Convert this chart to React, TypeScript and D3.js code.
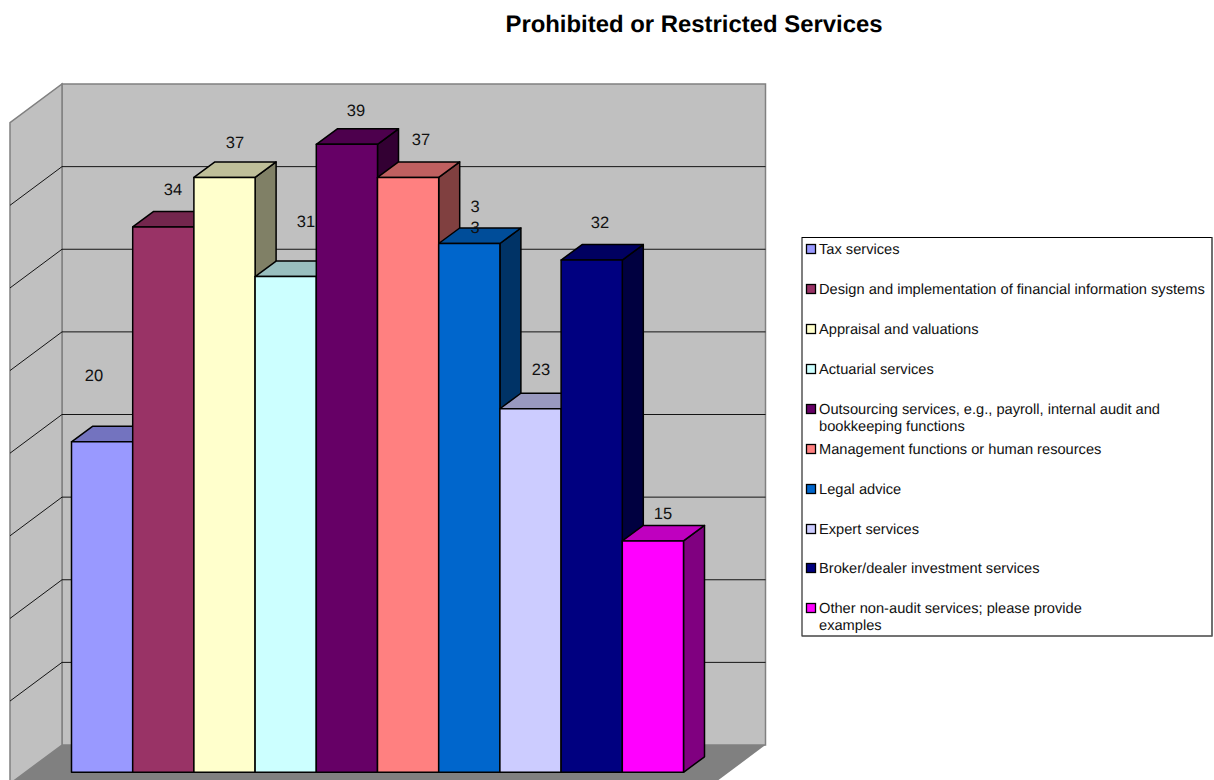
import React from "react";
import * as d3 from "d3";

const chartTitle = "Prohibited or Restricted Services";
const categories = [
  "Tax services",
  "Design and implementation of financial information systems",
  "Appraisal and valuations",
  "Actuarial services",
  "Outsourcing services, e.g., payroll, internal audit and",
  "Management functions or human resources",
  "Legal advice",
  "Expert services",
  "Broker/dealer investment services",
  "Other non-audit services; please provide",
];
const secondLines = ["", "", "", "", "bookkeeping functions", "", "", "", "", "examples"];
// Bar heights (the first bar stands a little higher than its label says).
const barValues = [21, 34, 37, 31, 39, 37, 33, 23, 32, 15];
const dataLabels = ["20", "34", "37", "31", "39", "37", "3\n3", "23", "32", "15"];
const labelX = [94, 173, 235, 306, 356, 421, 475, 541, 600, 663];
const labelY = [381, 195, 148, 227, 116, 145, 212, 375, 228, 519];
const colors = ["#9999ff", "#993366", "#ffffcc", "#ccffff", "#660066", "#ff8080", "#0066cc", "#ccccff", "#000080", "#ff00ff"];
const gridTicks = [5, 10, 15, 20, 25, 30, 35];
const legendBaselines = [254, 294, 334, 374, 414, 454, 494, 534, 573, 613];

const FONT = "'Liberation Sans', Arial, sans-serif";
const depthX = 52;
const depthY = 38.7;
const barDepthX = 21;
const barDepthY = 15.5;

const wallY = d3.scaleLinear().domain([0, 40]).range([745, 84]);
const barY = d3.scaleLinear().domain([1, 41]).range([772.3, 111.3]);
const barX = d3.scaleBand<string>().domain(categories).range([71.5, 683.5]).padding(0);
const wallLeft = 62;
const wallRight = 765.5;
const shade = (c: string, k: number) => {
  const r = d3.rgb(c);
  return d3.rgb(r.r * k, r.g * k, r.b * k).formatHex();
};
const pts = (p: number[][]) => p.map((q) => q.join(",")).join(" ");

export default function App() {
  const w = barX.bandwidth();
  return (
    <svg
      width={1214}
      height={780}
      viewBox="0 0 1214 780"
      style={{ position: "fixed", left: 0, top: 0, display: "block", background: "#fff" }}
      fontFamily={FONT}
      textRendering="geometricPrecision"
    >
      <text x={694} y={32} textAnchor="middle" fontSize={23.9} fontWeight="bold" fill="#000">
        {chartTitle}
      </text>

      {/* walls and floor */}
      <polygon
        points={pts([[wallLeft, wallY(0)], [wallRight, wallY(0)], [wallRight - depthX, wallY(0) + depthY], [wallLeft - depthX, wallY(0) + depthY]])}
        fill="#808080"
      />
      <rect x={wallLeft} y={wallY(40)} width={wallRight - wallLeft} height={wallY(0) - wallY(40)} fill="#c0c0c0" stroke="#808080" strokeWidth={1.5} />
      <polygon
        points={pts([[wallLeft, wallY(40)], [wallLeft, wallY(0)], [wallLeft - depthX, wallY(0) + depthY], [wallLeft - depthX, wallY(40) + depthY]])}
        fill="#c0c0c0"
        stroke="#808080"
        strokeWidth={1.5}
      />
      {gridTicks.map((t) => (
        <path
          key={t}
          d={`M${wallLeft - depthX},${wallY(t) + depthY}L${wallLeft},${wallY(t)}H${wallRight}`}
          fill="none"
          stroke="#000"
          strokeWidth={0.9}
        />
      ))}

      {/* bars */}
      {categories.map((c, i) => {
        const x0 = barX(c) as number;
        const x1 = x0 + w;
        const yT = barY(barValues[i]);
        const yB = barY(1);
        return (
          <g key={c} stroke="#000" strokeWidth={1.5} strokeLinejoin="round">
            <polygon
              points={pts([[x1, yT], [x1 + barDepthX, yT - barDepthY], [x1 + barDepthX, yB - barDepthY], [x1, yB]])}
              fill={shade(colors[i], 0.5)}
            />
            <polygon
              points={pts([[x0, yT], [x0 + barDepthX, yT - barDepthY], [x1 + barDepthX, yT - barDepthY], [x1, yT]])}
              fill={shade(colors[i], 0.75)}
            />
            <rect x={x0} y={yT} width={w} height={yB - yT} fill={colors[i]} />
          </g>
        );
      })}

      {/* data labels */}
      {dataLabels.map((l, i) =>
        l.split("\n").map((part, k) => (
          <text key={`${i}-${k}`} x={labelX[i]} y={labelY[i] + k * 21} textAnchor="middle" fontSize={16.5} fill="#111">
            {part}
          </text>
        ))
      )}

      {/* legend */}
      <rect x={802} y={237.5} width={410} height={398.5} fill="#fff" stroke="#000" strokeWidth={1} />
      <path d="M802,636H1212V237.5" fill="none" stroke="#666" strokeWidth={1.2} />
      {categories.map((c, i) => (
        <g key={c}>
          <rect x={806.5} y={legendBaselines[i] - 9.5} width={9} height={9} fill={colors[i]} stroke="#000" strokeWidth={1.3} />
          <text x={819} y={legendBaselines[i]} fontSize={14.65} fill="#111">
            {c}
          </text>
          {secondLines[i] && (
            <text x={819} y={legendBaselines[i] + 17} fontSize={14.65} fill="#111">
              {secondLines[i]}
            </text>
          )}
        </g>
      ))}
    </svg>
  );
}
